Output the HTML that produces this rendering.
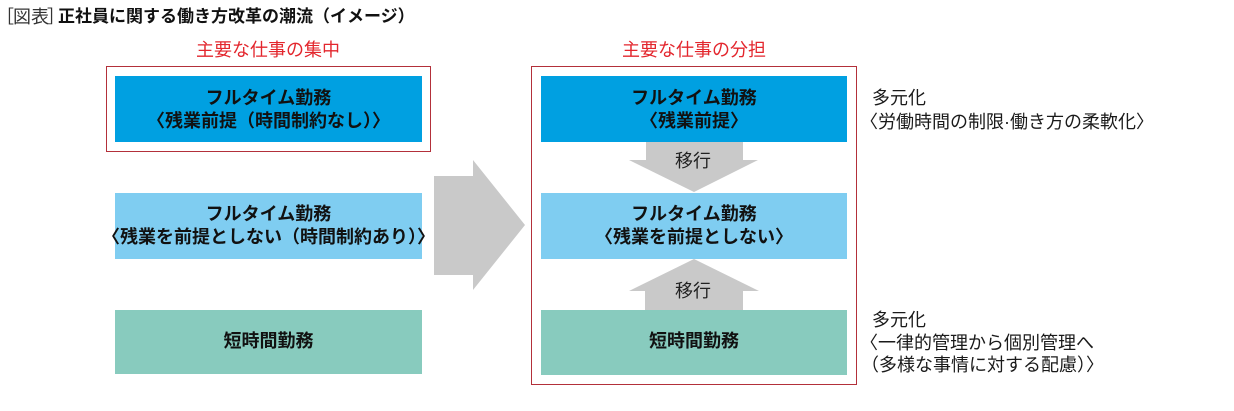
<!DOCTYPE html>
<html><head><meta charset="utf-8">
<style>
html,body{margin:0;padding:0;background:#fff;}
body{width:1234px;height:411px;position:relative;overflow:hidden;font-family:"Liberation Sans","Noto Sans CJK JP",sans-serif;color:#1a1a1a;}
.a{position:absolute;white-space:nowrap;}
.box{position:absolute;}
.t{position:absolute;text-align:center;font-weight:bold;font-size:18px;line-height:23px;color:#111;white-space:nowrap;}
.n{position:absolute;white-space:nowrap;font-size:18px;line-height:22px;color:#1a1a1a;}
.red{position:absolute;border:1px solid #b3303a;box-sizing:border-box;}
.h{position:absolute;color:#e3262d;font-size:18px;line-height:22px;text-align:center;white-space:nowrap;}
</style></head><body>

<!-- title -->
<div class="a" style="left:-4px;top:6px;font-size:18px;line-height:22px;font-weight:normal;color:#333;">［</div>
<div class="a" style="left:13px;top:6px;font-size:18px;line-height:22px;font-weight:normal;color:#333;">図表</div>
<div class="a" style="left:47px;top:6px;font-size:18px;line-height:22px;font-weight:normal;color:#333;">］</div>
<div class="a" style="left:58px;top:6px;font-size:17px;line-height:22px;font-weight:bold;color:#111;">正社員に関する働き方改革の潮流（イメージ）</div>

<!-- headings -->
<div class="h" style="left:115px;width:306px;top:39px;">主要な仕事の集中</div>
<div class="h" style="left:541px;width:306px;top:39px;">主要な仕事の分担</div>

<!-- red frames -->
<div class="red" style="left:106px;top:66px;width:325px;height:86px;"></div>
<div class="red" style="left:531px;top:66px;width:326px;height:319px;"></div>

<!-- left boxes -->
<div class="box" style="left:115px;top:76px;width:307px;height:66px;background:#00a0e1;"></div>
<div class="t" style="left:68px;top:87px;width:401px;">フルタイム勤務<br>〈残業前提（時間制約なし）〉</div>

<div class="box" style="left:115px;top:193px;width:307px;height:66px;background:#7fcdf1;"></div>
<div class="t" style="left:68px;top:203px;width:401px;">フルタイム勤務<br>〈残業を前提としない（時間制約あり）〉</div>

<div class="box" style="left:115px;top:310px;width:307px;height:64px;background:#88cbbe;"></div>
<div class="t" style="left:68px;top:330px;width:401px;">短時間勤務</div>

<!-- arrows -->
<svg class="a" style="left:0;top:0;" width="1234" height="411" viewBox="0 0 1234 411">
  <polygon points="434,176 473,176 473,160 525,225 473,290 473,275 434,275" fill="#c9c9c9"/>
  <polygon points="646,142 743,142 743,160 758,160 694,192 629,160 646,160" fill="#c9c9c9"/>
  <polygon points="694,259 759,291 743,291 743,310 645,310 645,291 629,291" fill="#c9c9c9"/>
</svg>

<!-- right boxes -->
<div class="box" style="left:541px;top:76px;width:306px;height:66px;background:#00a0e1;"></div>
<div class="t" style="left:541px;top:87px;width:306px;">フルタイム勤務<br>〈残業前提〉</div>

<div class="box" style="left:541px;top:193px;width:306px;height:66px;background:#7fcdf1;"></div>
<div class="t" style="left:541px;top:203px;width:306px;">フルタイム勤務<br>〈残業を前提としない〉</div>

<div class="box" style="left:541px;top:310px;width:306px;height:65px;background:#88cbbe;"></div>
<div class="t" style="left:541px;top:330px;width:306px;">短時間勤務</div>

<div class="a" style="left:675px;top:150px;font-size:18px;line-height:22px;color:#222;">移行</div>
<div class="a" style="left:675px;top:280px;font-size:18px;line-height:22px;color:#222;">移行</div>

<!-- notes -->
<div class="n" style="left:872px;top:87px;">多元化</div>
<div class="n" style="left:860px;top:111px;">〈労働時間の制限·働き方の柔軟化〉</div>

<div class="n" style="left:872px;top:309px;">多元化</div>
<div class="n" style="left:860px;top:332px;">〈一律的管理から個別管理へ</div>
<div class="n" style="left:861px;top:354px;">（多様な事情に対する配慮）〉</div>

</body></html>
